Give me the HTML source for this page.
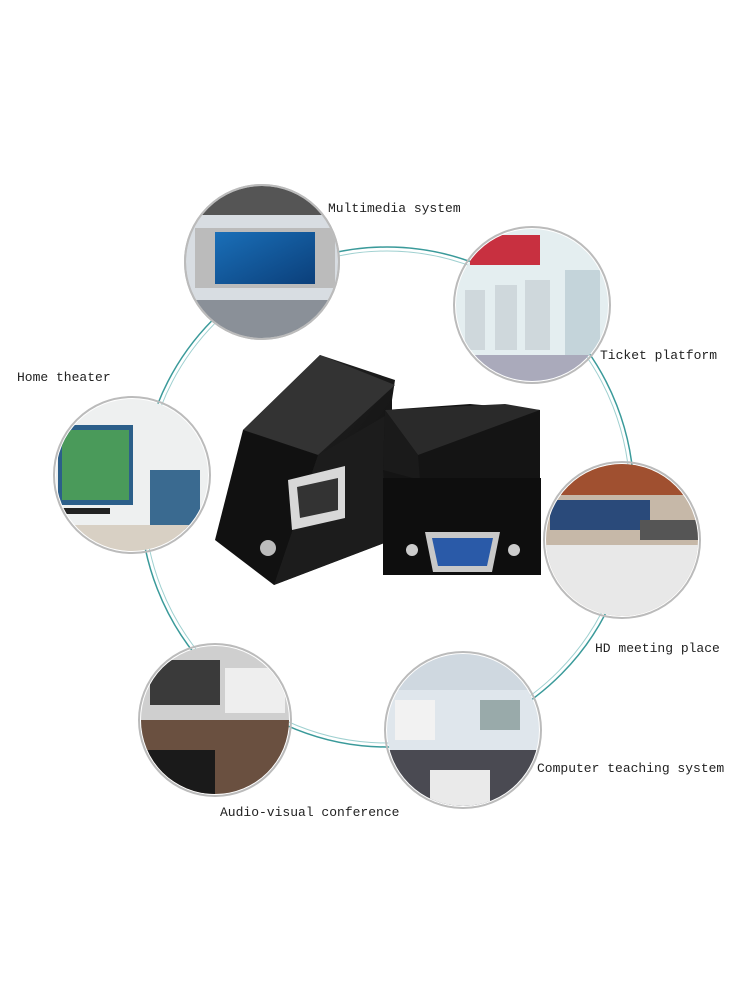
<!DOCTYPE html>
<html><head><meta charset="utf-8"><style>
html,body{margin:0;padding:0;background:#fff}
svg{display:block}
text{font-family:"Liberation Mono",monospace;font-size:13px;fill:#222}
</style></head><body>
<svg width="750" height="1000" viewBox="0 0 750 1000" xmlns="http://www.w3.org/2000/svg">
<defs>
<linearGradient id="blue" x1="0" y1="0" x2="1" y2="1"><stop offset="0" stop-color="#1a6fb8"/><stop offset="1" stop-color="#0b3f7a"/></linearGradient>
<linearGradient id="box" x1="0" y1="0" x2="1" y2="1"><stop offset="0" stop-color="#2a2a2a"/><stop offset="1" stop-color="#0a0a0a"/></linearGradient>
<clipPath id="c1"><circle cx="262" cy="262" r="76"/></clipPath>
<clipPath id="c2"><circle cx="532" cy="305" r="76"/></clipPath>
<clipPath id="c3"><circle cx="132" cy="475" r="76"/></clipPath>
<clipPath id="c4"><circle cx="622" cy="540" r="76"/></clipPath>
<clipPath id="c5"><circle cx="215" cy="720" r="74"/></clipPath>
<clipPath id="c6"><circle cx="463" cy="730" r="76"/></clipPath>
</defs>
<rect width="750" height="1000" fill="#fff"/>
<ellipse cx="387" cy="497" rx="247" ry="250" fill="none" stroke="#3a9a9a" stroke-width="1.5"/>
<ellipse cx="387" cy="497" rx="243" ry="246" fill="none" stroke="#9fd0d0" stroke-width="1"/>

<circle cx="262" cy="262" r="78" fill="#bbb"/>
<g clip-path="url(#c1)">
<rect x="180" y="185" width="170" height="160" fill="#d8dde2"/>
<rect x="180" y="185" width="170" height="30" fill="#555"/>
<rect x="195" y="228" width="140" height="60" fill="#bbb"/>
<rect x="215" y="232" width="100" height="52" fill="url(#blue)"/>
<rect x="180" y="300" width="170" height="45" fill="#8a9098"/>
</g>
<circle cx="532" cy="305" r="78" fill="none" stroke="#bbb" stroke-width="2"/>
<g clip-path="url(#c2)">
<rect x="450" y="225" width="170" height="160" fill="#e4eef0"/>
<rect x="470" y="235" width="70" height="30" fill="#c83040"/>
<rect x="465" y="290" width="20" height="60" fill="#cfd8dc"/>
<rect x="495" y="285" width="22" height="65" fill="#cfd8dc"/>
<rect x="525" y="280" width="25" height="70" fill="#cfd8dc"/>
<rect x="565" y="270" width="35" height="85" fill="#c4d4da"/>
<rect x="450" y="355" width="170" height="30" fill="#aab"/>
</g>
<circle cx="132" cy="475" r="78" fill="none" stroke="#bbb" stroke-width="2"/>
<g clip-path="url(#c3)">
<rect x="50" y="395" width="170" height="160" fill="#eef0f0"/>
<rect x="58" y="425" width="75" height="80" fill="#2c5f8a"/>
<rect x="62" y="430" width="67" height="70" fill="#4a9a5a"/>
<rect x="60" y="508" width="50" height="6" fill="#222"/>
<rect x="150" y="470" width="50" height="60" fill="#3a6a90"/>
<rect x="50" y="525" width="170" height="30" fill="#d8d0c4"/>
</g>
<circle cx="622" cy="540" r="78" fill="none" stroke="#bbb" stroke-width="2"/>
<g clip-path="url(#c4)">
<rect x="540" y="460" width="170" height="160" fill="#c6b8a8"/>
<rect x="540" y="460" width="170" height="35" fill="#a05030"/>
<rect x="550" y="500" width="100" height="30" fill="#2a4a7a"/>
<rect x="540" y="545" width="170" height="75" fill="#e8e8e8"/>
<rect x="640" y="520" width="60" height="20" fill="#555"/>
</g>
<circle cx="215" cy="720" r="76" fill="none" stroke="#bbb" stroke-width="2"/>
<g clip-path="url(#c5)">
<rect x="135" y="640" width="165" height="160" fill="#cfcfcf"/>
<rect x="150" y="660" width="70" height="45" fill="#3a3a3a"/>
<rect x="225" y="668" width="60" height="45" fill="#eee"/>
<rect x="135" y="720" width="165" height="80" fill="#6a5040"/>
<rect x="135" y="750" width="80" height="50" fill="#1a1a1a"/>
</g>
<circle cx="463" cy="730" r="78" fill="none" stroke="#bbb" stroke-width="2"/>
<g clip-path="url(#c6)">
<rect x="380" y="650" width="170" height="165" fill="#dfe6ec"/>
<rect x="380" y="650" width="170" height="40" fill="#cfd8e0"/>
<rect x="395" y="700" width="40" height="40" fill="#f2f2f2"/>
<rect x="480" y="700" width="40" height="30" fill="#9aa"/>
<rect x="380" y="750" width="170" height="65" fill="#4a4a52"/>
<rect x="430" y="770" width="60" height="45" fill="#eaeaea"/>
</g>
<circle cx="262" cy="262" r="77" fill="none" stroke="#bbb" stroke-width="2"/>

<polygon points="243,430 320,355 395,380 392,400 392,540 274,585 265,520" fill="url(#box)"/>
<polygon points="243,430 320,355 395,385 318,455" fill="#333"/>
<polygon points="243,430 318,455 274,585 215,540" fill="#111"/>
<polygon points="318,455 395,410 392,540 274,585" fill="#1c1c1c"/>
<polygon points="288,480 345,466 345,518 292,530" fill="#d8d8d8"/>
<polygon points="297,487 338,478 338,510 300,518" fill="#333"/>
<circle cx="268" cy="548" r="8" fill="#bbb"/>
<polygon points="385,410 470,404 540,410 540,575 390,575 383,470" fill="#141414"/>
<polygon points="385,410 505,404 540,410 418,455" fill="#2a2a2a"/>
<polygon points="385,410 418,455 420,480 383,470" fill="#1a1a1a"/>
<rect x="383" y="478" width="158" height="97" fill="#0e0e0e"/>
<polygon points="425,532 500,532 492,572 433,572" fill="#c8c8c8"/>
<polygon points="432,538 493,538 487,566 438,566" fill="#2a5aa8"/>
<circle cx="412" cy="550" r="6" fill="#ccc"/>
<circle cx="514" cy="550" r="6" fill="#ccc"/>

<text x="328" y="212">Multimedia system</text>
<text x="600" y="359">Ticket platform</text>
<text x="17" y="381">Home theater</text>
<text x="595" y="652">HD meeting place</text>
<text x="537" y="772">Computer teaching system</text>
<text x="220" y="816">Audio-visual conference</text>
</svg>
</body></html>
